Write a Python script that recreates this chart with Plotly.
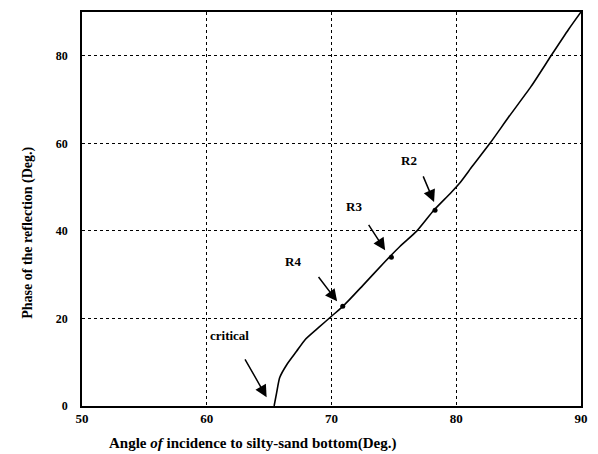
import plotly.graph_objects as go

# Phase of the reflection vs. angle of incidence (silty-sand bottom)
angle = [65.4, 65.6, 65.85, 66.45, 67.2, 67.9, 69.0, 70.0, 71.0, 72.5, 74.3, 75.5,
         76.85, 78.2, 79.5, 80.3, 81.3, 82.7, 84.2, 86.0, 87.6, 89.0, 90.0]
phase = [0.0, 3.0, 6.5, 9.6, 12.5, 15.2, 18.0, 20.5, 23.0, 27.5, 33.0, 36.5,
         40.0, 44.7, 48.5, 51.0, 54.8, 60.0, 66.0, 73.0, 80.0, 86.0, 90.0]

# Measured reflections
pt_names = ["R4", "R3", "R2"]
pt_angle = [70.9, 74.8, 78.3]
pt_phase = [22.8, 34.0, 44.7]

# Label text positions and arrow tail/head positions (data units)
labels = ["R2", "R3", "R4", "critical"]
label_x = [76.2, 71.8, 66.9, 61.8]
label_y = [56.0, 45.5, 33.1, 16.0]
tail_x = [77.3, 72.9, 68.87, 63.0]
tail_y = [52.8, 41.7, 29.8, 11.0]
head_x = [78.22, 74.3, 70.45, 64.8]
head_y = [46.6, 35.6, 23.9, 2.0]

x_ticks = [50, 60, 70, 80, 90]
y_ticks = [0, 20, 40, 60, 80]

FONT = "Liberation Serif"

fig = go.Figure()
fig.add_trace(go.Scatter(x=angle, y=phase, mode="lines", line_shape="spline",
                         line=dict(color="black", width=1.6, smoothing=0.6),
                         showlegend=False))
fig.add_trace(go.Scatter(x=pt_angle, y=pt_phase, mode="markers", text=pt_names,
                         marker=dict(color="black", size=5), showlegend=False))

annotations = []
for t, lx, ly in zip(labels, label_x, label_y):
    annotations.append(dict(x=lx, y=ly, xref="x", yref="y", text=f"<b>{t}</b>",
                            showarrow=False, font=dict(family=FONT, size=13, color="black")))
for tx, ty, hx, hy in zip(tail_x, tail_y, head_x, head_y):
    annotations.append(dict(x=hx, y=hy, ax=tx, ay=ty, xref="x", yref="y",
                            axref="x", ayref="y", text="", showarrow=True,
                            arrowhead=2, arrowsize=1.6, arrowwidth=1.5,
                            arrowcolor="black"))
annotations.append(dict(x=0.342, y=-0.095, xref="paper", yref="paper",
                        xanchor="center", yanchor="middle",
                        text="<b>Angle <i>of</i> incidence to silty-sand bottom(Deg.)</b>",
                        showarrow=False, font=dict(family=FONT, size=15, color="black")))
annotations.append(dict(x=-0.108, y=0.44, xref="paper", yref="paper",
                        xanchor="center", yanchor="middle", textangle=-90,
                        text="<b>Phase of the reflection (Deg.)</b>",
                        showarrow=False, font=dict(family=FONT, size=14, color="black")))

fig.update_layout(
    width=598, height=454,
    margin=dict(l=82, r=10, t=11, b=48),
    paper_bgcolor="white", plot_bgcolor="white",
    font=dict(family=FONT, color="black"),
    annotations=annotations,
    xaxis=dict(range=[50, 90], tickvals=x_ticks, ticktext=[f"<b>{v}</b>" for v in x_ticks],
               showgrid=True, gridcolor="black", griddash="dot", gridwidth=1.2,
               showline=True, linecolor="black", linewidth=1.5, mirror=True,
               zeroline=False, ticks="", ticklabeloverflow="allow",
               tickfont=dict(family=FONT, size=13)),
    yaxis=dict(range=[0, 90], tickvals=y_ticks, ticktext=[f"<b>{v}</b>" for v in y_ticks],
               showgrid=True, gridcolor="black", griddash="dot", gridwidth=1.2,
               showline=True, linecolor="black", linewidth=1.5, mirror=True,
               zeroline=False, ticks="", ticklabelstandoff=10,
               tickfont=dict(family=FONT, size=12)),
)

fig.write_html("out.html")
